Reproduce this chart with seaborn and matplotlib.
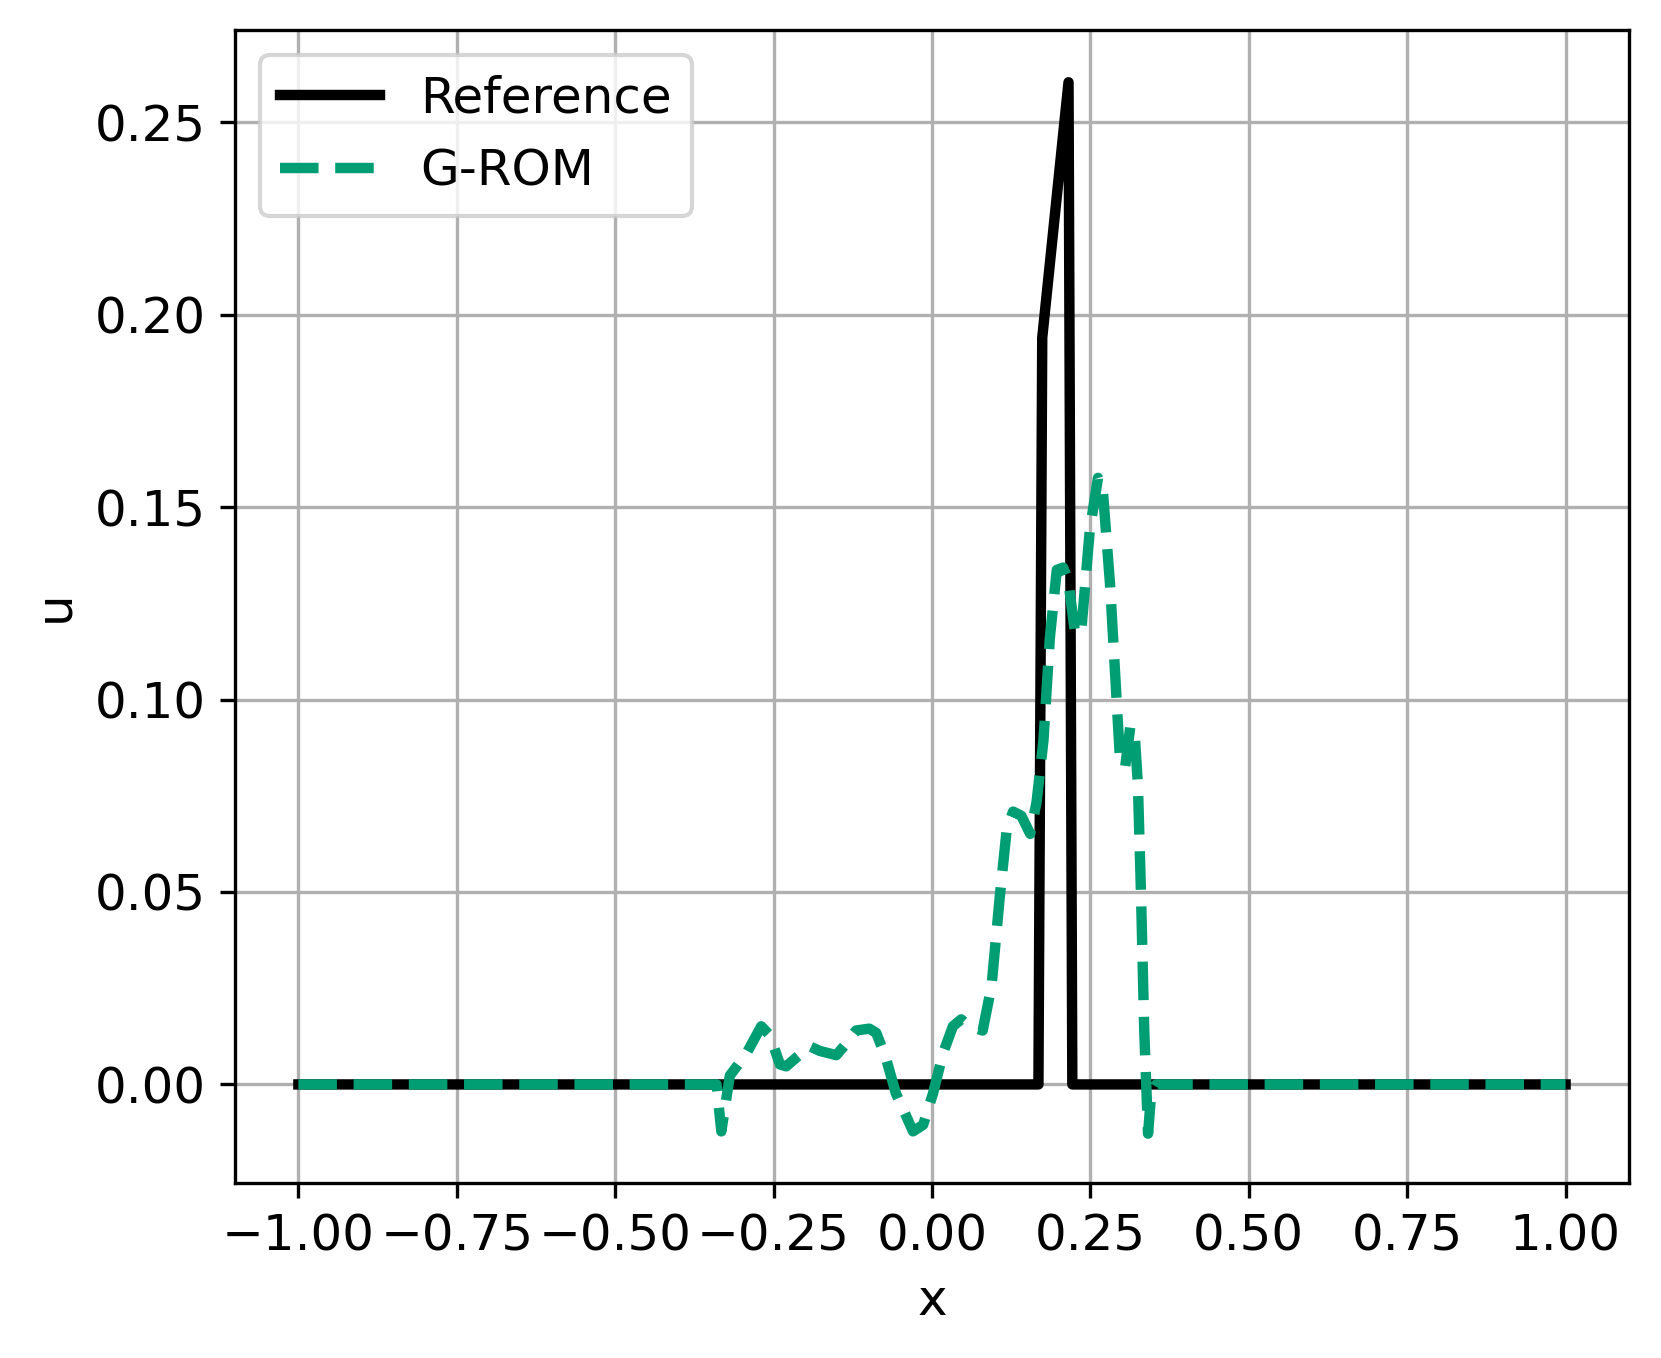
import numpy as np
import pandas as pd
import seaborn as sns
import matplotlib.pyplot as plt

# Reference solution
ref_x = [-1.0, 0.168, 0.174, 0.2155, 0.2215, 1.0]
ref_u = [0.0, 0.0, 0.194, 0.2604, 0.0, 0.0]

# G-ROM solution
rom_x = [-1.0, -0.345, -0.340, -0.3325, -0.319, -0.293, -0.2695, -0.256, -0.240,
         -0.230, -0.214, -0.193, -0.177, -0.151, -0.136, -0.120, -0.099, -0.088,
         -0.073, -0.057, -0.041, -0.030, -0.014, 0.0017, 0.0174, 0.033, 0.046,
         0.059, 0.080, 0.094, 0.107, 0.118, 0.128, 0.141, 0.155, 0.165, 0.176,
         0.186, 0.197, 0.207, 0.215, 0.226, 0.236, 0.249, 0.262, 0.270, 0.281,
         0.291, 0.297, 0.305, 0.313, 0.320, 0.325, 0.330, 0.335, 0.341, 0.346,
         0.354, 1.0]
rom_u = [0.0, 0.0, 0.0, -0.0122, 0.0023, 0.008, 0.0151, 0.0128, 0.0052,
         0.0047, 0.007, 0.0099, 0.0087, 0.0076, 0.0105, 0.014, 0.0145, 0.0134,
         0.007, -0.0023, -0.0081, -0.0122, -0.0105, -0.0023, 0.0081, 0.0151, 0.0169,
         0.0151, 0.014, 0.0256, 0.0488, 0.0663, 0.0709, 0.0698, 0.0651, 0.0733, 0.0895,
         0.116, 0.1337, 0.1343, 0.131, 0.117, 0.1186, 0.144, 0.1576, 0.1535, 0.130,
         0.101, 0.0837, 0.0826, 0.093, 0.0907, 0.0779, 0.0488, 0.014, -0.0128, -0.0023,
         0.0, 0.0]

ref = pd.DataFrame({'x': ref_x, 'u': ref_u})
rom = pd.DataFrame({'x': rom_x, 'u': rom_u})

plt.rcParams['font.size'] = 12
fig = plt.figure(figsize=(1661 / 300, 1358 / 300), dpi=300)
ax = fig.add_axes([0.1415, 0.1289, 0.8392, 0.8491])

sns.lineplot(data=ref, x='x', y='u', color='black', lw=2.5, label='Reference',
             sort=False, estimator=None, ax=ax)
sns.lineplot(data=rom, x='x', y='u', color='#029e73', lw=2.5, ls='--', label='G-ROM',
             sort=False, estimator=None, ax=ax)

ax.set_xlim(-1.1, 1.1)
ax.set_ylim(-0.0256, 0.274)
ax.set_xticks(np.arange(-1.0, 1.01, 0.25))
ax.set_yticks(np.arange(0.0, 0.26, 0.05))
ax.set_xticklabels([f'{t:.2f}'.replace('-', '\u2212') for t in np.arange(-1.0, 1.01, 0.25)])
ax.set_yticklabels([f'{t:.2f}' for t in np.arange(0.0, 0.26, 0.05)])
ax.set_xlabel('x')
ax.set_ylabel('u')
ax.grid(True)
ax.legend(loc='upper left')

plt.savefig('out.png', dpi=300)
